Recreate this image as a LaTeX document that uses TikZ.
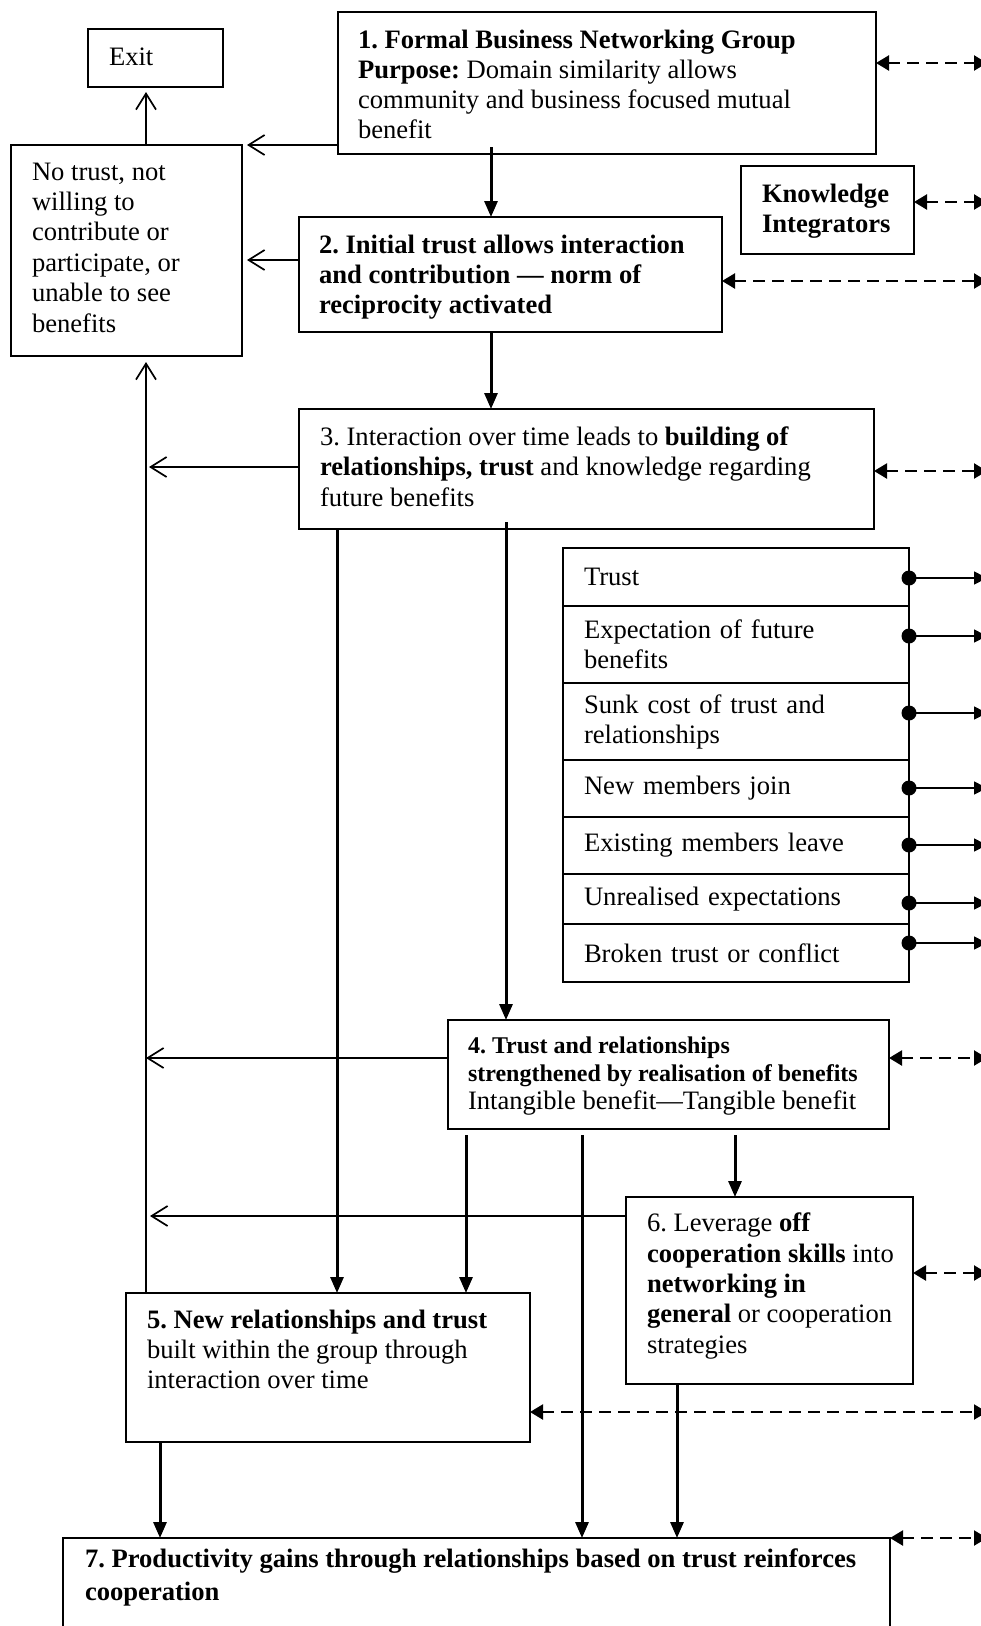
\documentclass[tikz,border=0pt]{standalone}
\usepackage{fontspec}
\setmainfont{Liberation Serif}
\usetikzlibrary{arrows.meta,calc}
\frenchspacing

\begin{document}
\begin{tikzpicture}[x=1pt,y=-1pt,
  box/.style={draw,rectangle,line width=2pt,inner sep=0pt,outer sep=0pt},
  % text blocks are placed by the baseline of their last line
  txt/.style={inner sep=0pt,outer sep=0pt,align=left,anchor=base west},
  body/.style={txt,font=\fontsize{26.6pt}{30.4pt}\selectfont},
  small/.style={txt,font=\fontsize{24pt}{28pt}\selectfont\bfseries},
  rowbox/.style={draw,rectangle,line width=2pt,inner ysep=0pt,inner xsep=21pt,outer sep=0pt,
    minimum width=346pt,text width=304pt,align=left,anchor=north,
    font=\fontsize{26.6pt}{30pt}\selectfont},
  flow/.style={line width=3pt,-{Triangle[length=16pt,width=13pt]}},
  back/.style={line width=1.7pt,-{Straight Barb[length=16pt,width=20pt]}},
  link/.style={line width=2.3pt,dash pattern=on 12pt off 7pt,
    {Triangle[length=13pt,width=15pt]}-{Triangle[length=13pt,width=15pt]}},
  factor/.style={line width=1.7pt,-{Triangle[length=13pt,width=13pt]}}
]
\useasboundingbox (0,0) rectangle (981,1626);
\clip (0,0) rectangle (981,1626);

% columns and rows used by the connectors
\coordinate (c146) at (146,0);
\coordinate (c160) at (160,0);
\coordinate (c337) at (337,0);
\coordinate (c466) at (466,0);
\coordinate (c491) at (491,0);
\coordinate (c506) at (506,0);
\coordinate (c582) at (582,0);
\coordinate (c677) at (677,0);
\coordinate (c735) at (735,0);
\coordinate (edge) at (987,0);
\coordinate (y63) at (0,63);
\coordinate (y202) at (0,202);
\coordinate (y260) at (0,260);
\coordinate (y281) at (0,281);
\coordinate (y467) at (0,467);
\coordinate (y471) at (0,471);
\coordinate (y1058) at (0,1058);
\coordinate (y1216) at (0,1216);
\coordinate (y1273) at (0,1273);
\coordinate (y1412) at (0,1412);

% boxes
\node[box,minimum width=135pt,minimum height=58pt] (exit) at (155.5,58) {};
\node[box,minimum width=231pt,minimum height=211pt] (nt) at (126.5,250.5) {};
\node[box,minimum width=538pt,minimum height=142pt] (b1) at (607,83) {};
\node[box,minimum width=173pt,minimum height=88pt] (ki) at (827.5,210) {};
\node[box,minimum width=423pt,minimum height=115pt] (b2) at (510.5,274.5) {};
\node[box,minimum width=575pt,minimum height=120pt] (b3) at (586.5,469) {};
\node[box,minimum width=441pt,minimum height=109pt] (b4) at (668.5,1074.5) {};
\node[box,minimum width=287pt,minimum height=187pt] (b6) at (769.5,1290.5) {};
\node[box,minimum width=404pt,minimum height=149pt] (b5) at (328,1367.5) {};
\node[box,minimum width=827pt,minimum height=130pt] (b7) at (476.5,1603) {};

% texts
\node[body] (texit) at (109,65) {Exit};
\node[body] (tnt) at (32,332) {No trust, not\\willing to\\contribute or\\participate, or\\unable to see\\benefits};
\node[body,font=\fontsize{26.6pt}{30pt}\selectfont] (t1) at (358,138)
  {\textbf{1. Formal Business Networking Group}\\\textbf{Purpose:} Domain similarity allows\\community and business focused mutual\\benefit};
\node[body,font=\fontsize{26.6pt}{30pt}\selectfont\bfseries] (tki) at (762,232) {Knowledge\\Integrators};
\node[body,font=\fontsize{26.6pt}{30pt}\selectfont\bfseries] (t2) at (319,313)
  {2. Initial trust allows interaction\\and contribution --- norm of\\reciprocity activated};
\node[body] (t3) at (320,506)
  {3. Interaction over time leads to \textbf{building of}\\\textbf{relationships, trust} and knowledge regarding\\future benefits};
\node[small] (t4a) at (468,1081) {4. Trust and relationships\\strengthened by realisation of benefits};
\node[body] (t4b) at (468,1109) {Intangible benefit---Tangible benefit};
\node[body,font=\fontsize{26.6pt}{30.3pt}\selectfont] (t6) at (647,1353)
  {6. Leverage \textbf{off}\\\textbf{cooperation skills} into\\\textbf{networking in}\\\textbf{general} or cooperation\\strategies};
\node[body,font=\fontsize{26.6pt}{30pt}\selectfont] (t5) at (147,1388)
  {\textbf{5. New relationships and trust}\\built within the group through\\interaction over time};
\node[body,font=\fontsize{26.6pt}{33pt}\selectfont\bfseries] (t7) at (85,1600)
  {7. Productivity gains through relationships based on trust reinforces\\cooperation};

% table of influencing factors
\node[rowbox,minimum height=58pt] (r1) at (736,548) {Trust};
\node[rowbox,minimum height=77pt] (r2) at (r1.south) {Expectation of future\\benefits};
\node[rowbox,minimum height=77pt] (r3) at (r2.south) {Sunk cost of trust and\\relationships};
\node[rowbox,minimum height=57pt] (r4) at (r3.south) {New members join};
\node[rowbox,minimum height=57pt] (r5) at (r4.south) {Existing members leave};
\node[rowbox,minimum height=50pt] (r6) at (r5.south) {Unrealised expectations};
\node[rowbox,minimum height=58pt] (r7) at (r6.south) {Broken trust or conflict};

\foreach \r/\dy in {r1/30,r2/30,r3/30,r4/28,r5/28,r6/29,r7/19}{
  \coordinate (d\r) at ($(\r.north east)+(0,\dy)$);
  \draw[factor] (d\r) -- (edge |- d\r);
  \fill (d\r) circle (7.5pt);
}

% main flow
\draw[flow,shorten <=-7pt] (b1.south -| c491) -- (b2.north -| c491);
\draw[flow] (b2.south -| c491) -- (b3.north -| c491);
\draw[flow] (b3.south -| c337) -- (b5.north -| c337);
\draw[flow,shorten <=-7pt] (b3.south -| c506) -- (b4.north -| c506);
\draw[flow,shorten <=6pt] (b4.south -| c466) -- (b5.north -| c466);
\draw[flow,shorten <=6pt] (b4.south -| c582) -- (b7.north -| c582);
\draw[flow,shorten <=6pt] (b4.south -| c735) -- (b6.north -| c735);
\draw[flow] (b6.south -| c677) -- (b7.north -| c677);
\draw[flow] (b5.south -| c160) -- (b7.north -| c160);

% routes towards exit
\draw[back,shorten >=5pt] (nt.north -| c146) -- (exit.south -| c146);
\draw[back,shorten >=5pt] (b1.west |- nt.north) -- (nt.north east);
\draw[back,shorten >=5pt] (b2.west |- y260) -- (nt.east |- y260);
\draw[back,shorten >=6pt] (b5.north -| c146) -- (nt.south -| c146);
\draw[back,shorten >=3pt] (b3.west |- y467) -- (c146 |- y467);
\draw[back] (b4.west |- y1058) -- (c146 |- y1058);
\draw[back,shorten >=4pt] (b6.west |- y1216) -- (c146 |- y1216);

% links to the outside
\draw[link] (b1.east |- y63) -- (edge |- y63);
\draw[link] (ki.east |- y202) -- (edge |- y202);
\draw[link] (b2.east |- y281) -- (edge |- y281);
\draw[link] (b3.east |- y471) -- (edge |- y471);
\draw[link] (b4.east |- y1058) -- (edge |- y1058);
\draw[link] (b6.east |- y1273) -- (edge |- y1273);
\draw[link] (b5.east |- y1412) -- (edge |- y1412);
\draw[link] (b7.north east) -- (edge |- b7.north east);
\end{tikzpicture}
\end{document}
